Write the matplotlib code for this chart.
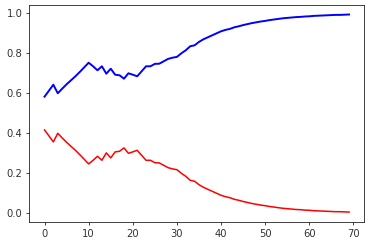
import matplotlib
matplotlib.use('Agg')
import matplotlib.pyplot as plt
import numpy as np

# values
steps = list(range(70))
blue_vals = [0.583, 0.613, 0.643, 0.600, 0.623, 0.645, 0.665, 0.685, 0.707, 0.730,
             0.753, 0.735, 0.715, 0.735, 0.698, 0.723, 0.693, 0.690, 0.673, 0.700,
             0.693, 0.685, 0.710, 0.735, 0.735, 0.747, 0.748, 0.760, 0.772, 0.778,
             0.782, 0.800, 0.815, 0.835, 0.840, 0.857, 0.870, 0.880, 0.890, 0.900,
             0.910, 0.917, 0.922, 0.930, 0.935, 0.941, 0.946, 0.951, 0.955, 0.959,
             0.962, 0.966, 0.969, 0.972, 0.975, 0.977, 0.979, 0.981, 0.982, 0.984,
             0.985, 0.987, 0.988, 0.989, 0.990, 0.991, 0.992, 0.992, 0.993, 0.994]
red_vals = [0.417, 0.387, 0.357, 0.400, 0.377, 0.355, 0.335, 0.315, 0.293, 0.270,
            0.247, 0.265, 0.285, 0.265, 0.302, 0.277, 0.307, 0.310, 0.327, 0.300,
            0.307, 0.315, 0.290, 0.265, 0.265, 0.253, 0.252, 0.240, 0.228, 0.222,
            0.218, 0.200, 0.185, 0.165, 0.160, 0.143, 0.130, 0.120, 0.110, 0.100,
            0.090, 0.083, 0.078, 0.070, 0.065, 0.059, 0.054, 0.049, 0.045, 0.041,
            0.038, 0.034, 0.031, 0.028, 0.025, 0.023, 0.021, 0.019, 0.018, 0.016,
            0.015, 0.013, 0.012, 0.011, 0.010, 0.009, 0.008, 0.008, 0.007, 0.006]

plt.rcParams['font.size'] = 7.2
plt.rcParams['xtick.major.size'] = 2.5
plt.rcParams['ytick.major.size'] = 2.5
plt.rcParams['xtick.major.width'] = 0.6
plt.rcParams['ytick.major.width'] = 0.6
plt.rcParams['axes.linewidth'] = 0.6

fig = plt.figure(figsize=(3.79, 2.43), dpi=100)
ax = fig.add_axes([0.0773, 0.0852, 0.8839, 0.8955])
ax.plot(steps, blue_vals, color='b', linewidth=1.4)
ax.plot(steps, red_vals, color='r', linewidth=1.1)
ax.set_xticks([0, 10, 20, 30, 40, 50, 60, 70])
ax.set_yticks([0.0, 0.2, 0.4, 0.6, 0.8, 1.0])
ax.set_xlim(-3.45, 72.45)
ax.set_ylim(-0.045, 1.043)
ax.tick_params(labelsize=7.2, pad=2.5, colors='#222222', labelcolor='#333333')
for s in ax.spines.values():
    s.set_color('#222222')

fig.savefig('out.png', dpi=100)
